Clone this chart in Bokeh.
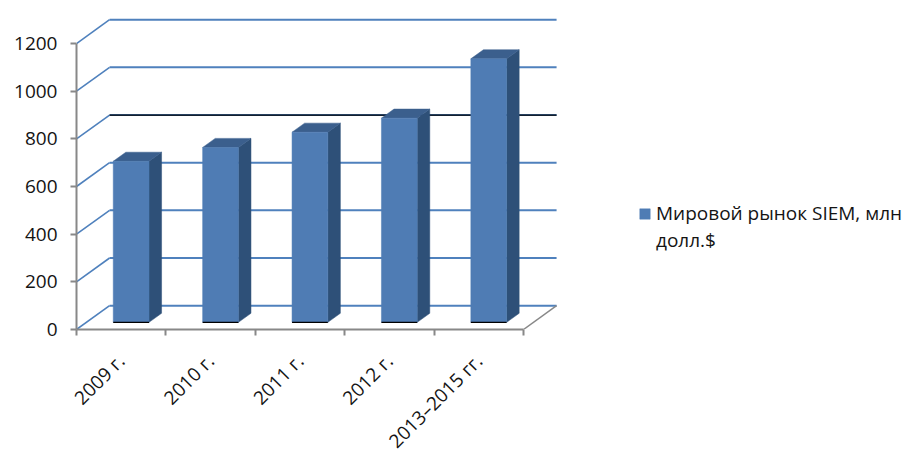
from math import pi
from bokeh.plotting import figure
from bokeh.models import (Range1d, FixedTicker, Legend, LegendItem)
from bokeh.embed import file_html
from bokeh.resources import INLINE

# ---- data ----
categories = ["2009 г.", "2010 г.", "2011 г.", "2012 г.", "2013–2015 гг."]
values = [676, 734, 798, 857, 1106]
y_ticks = [0, 200, 400, 600, 800, 1000, 1200]
series_name_1 = "Мировой рынок SIEM, млн"
series_name_2 = "долл.$"

# ---- 3D styling (projection offsets in data units) ----
DX = 0.37      # depth offset along x (category units)
DY = 100       # depth offset along y (value units)
F0, F1 = 0.30, 0.68   # bar depth slot (fraction of depth)
HALF_W = 0.2

FONT = "Open Sans"
TXT = "#141414"
GRID = "#4F81BD"
AXIS = "#888888"
FRONT = "#4F7CB4"
SIDE = "#2E5078"
TOP = "#3B5F8D"

n = len(categories)
X0, X1 = -0.5, n - 0.5
px_per_cat = 89.4
px_per_val = 0.2383
frame_w = 840
frame_h = 316

p = figure(frame_width=frame_w, frame_height=frame_h,
           x_range=Range1d(X0, X0 + frame_w / px_per_cat),
           y_range=Range1d(0, frame_h / px_per_val),
           output_backend="svg", toolbar_location=None,
           min_border_left=76, min_border_right=0,
           min_border_top=13, min_border_bottom=110)
p.outline_line_color = None
p.xgrid.visible = False
p.ygrid.visible = False
p.background_fill_color = "white"

# back wall gridlines
back_y = [t + DY for t in y_ticks]
p.segment(x0=[X0 + DX] * len(back_y), y0=back_y,
          x1=[X1 + DX] * len(back_y), y1=back_y,
          line_color=GRID, line_width=2)
# left wall diagonals
p.segment(x0=[X0] * len(y_ticks), y0=y_ticks,
          x1=[X0 + DX] * len(y_ticks), y1=back_y,
          line_color=GRID, line_width=1.6)
# the dark gridline at 800 on the back wall
p.segment(x0=[X0 + DX], y0=[800 + DY], x1=[X1 + DX], y1=[800 + DY],
          line_color="black", line_width=1.2)
# floor right edge
p.segment(x0=[X1], y0=[0], x1=[X1 + DX], y1=[DY], line_color=AXIS, line_width=1.5)

# bars
xs = list(range(n))
lefts = [x - HALF_W + F0 * DX for x in xs]
rights = [x + HALF_W + F0 * DX for x in xs]
bottoms = [F0 * DY] * n
tops = [v + F0 * DY for v in values]
ddx = (F1 - F0) * DX
ddy = (F1 - F0) * DY
side_xs = [[r, r + ddx, r + ddx, r] for r in rights]
side_ys = [[b, b + ddy, t + ddy, t] for b, t in zip(bottoms, tops)]
top_xs = [[l, r, r + ddx, l + ddx] for l, r in zip(lefts, rights)]
top_ys = [[t, t, t + ddy, t + ddy] for t in tops]
p.patches(side_xs, side_ys, fill_color=SIDE, line_color=SIDE, line_width=0.5)
p.patches(top_xs, top_ys, fill_color=TOP, line_color=TOP, line_width=0.5)
bars = p.quad(left=lefts, right=rights, bottom=bottoms, top=tops,
              fill_color=FRONT, line_color=FRONT, line_width=0.5)
p.segment(x0=lefts, y0=bottoms, x1=rights, y1=bottoms, line_color="black", line_width=1.3)

# y axis
ya = p.yaxis[0]
ya.ticker = FixedTicker(ticks=y_ticks, minor_ticks=[])
ya.bounds = (y_ticks[0], y_ticks[-1])
ya.axis_line_color = AXIS
ya.axis_line_width = 2
ya.major_tick_line_color = AXIS
ya.major_tick_line_width = 2
ya.major_tick_out = 6
ya.major_tick_in = 0
ya.major_label_standoff = 13
ya.major_label_text_font = FONT
ya.major_label_text_font_size = "19px"
ya.major_label_text_color = TXT

# x axis
xa = p.xaxis[0]
xa.ticker = FixedTicker(ticks=xs, minor_ticks=[x - 0.5 for x in xs] + [X1])
xa.major_label_overrides = {x: c for x, c in zip(xs, categories)}
xa.bounds = (X0, X1)
xa.axis_line_color = AXIS
xa.axis_line_width = 2
xa.major_tick_out = 0
xa.major_tick_in = 0
xa.minor_tick_out = 6
xa.minor_tick_in = 0
xa.minor_tick_line_color = AXIS
xa.minor_tick_line_width = 2
xa.major_label_orientation = pi / 4
xa.major_label_standoff = 22
xa.major_label_text_font = FONT
xa.major_label_text_font_size = "19px"
xa.major_label_text_color = TXT

# legend
dummy = p.quad(left=[], right=[], bottom=[], top=[], fill_alpha=0, line_alpha=0)
legend = Legend(items=[LegendItem(label=series_name_1, renderers=[bars]),
                       LegendItem(label=series_name_2, renderers=[dummy])],
                location=(562, 76), orientation="vertical",
                glyph_width=13, glyph_height=13, label_height=13,
                label_standoff=5, spacing=1, padding=0, margin=0,
                border_line_color=None, background_fill_alpha=0,
                label_text_font=FONT, label_text_font_size="19px",
                label_text_color=TXT)
p.add_layout(legend, "center")

open("out.html", "w").write(file_html(p, INLINE))
